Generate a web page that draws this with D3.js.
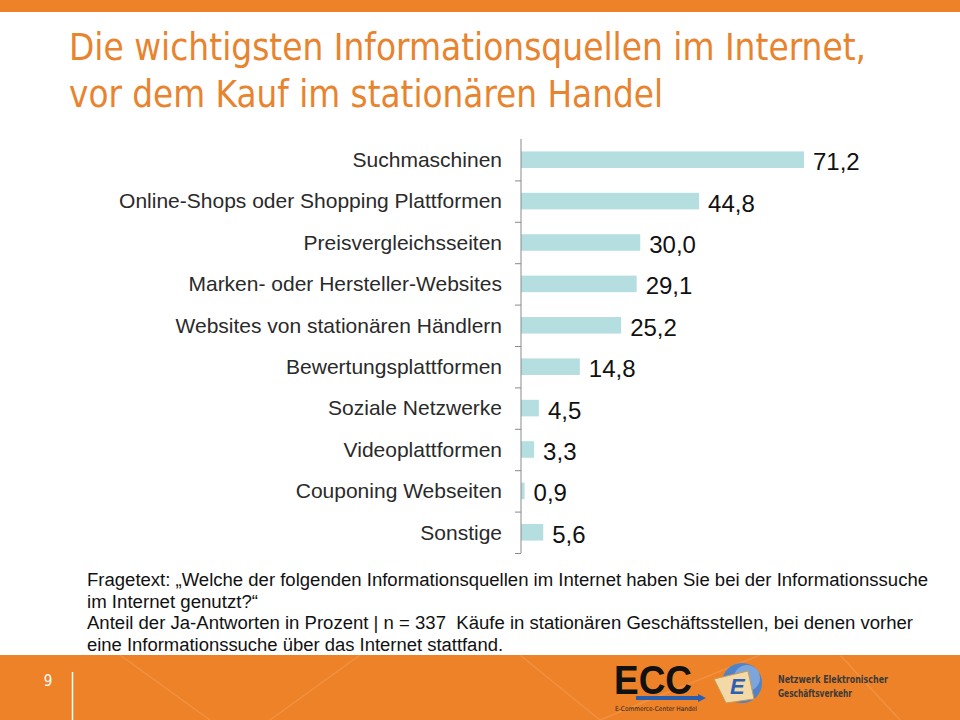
<!DOCTYPE html>
<html><head><meta charset="utf-8">
<script src="https://cdn.jsdelivr.net/npm/d3@7"></script>
<style>body{margin:0;background:#fff}svg{display:block}</style>
</head><body>
<script>
const categories = ["Suchmaschinen","Online-Shops oder Shopping Plattformen","Preisvergleichsseiten","Marken- oder Hersteller-Websites","Websites von stationären Händlern","Bewertungsplattformen","Soziale Netzwerke","Videoplattformen","Couponing Webseiten","Sonstige"];
const values = [71.2,44.8,30.0,29.1,25.2,14.8,4.5,3.3,0.9,5.6];
const titleLines = ["Die wichtigsten Informationsquellen im Internet,","vor dem Kauf im stationären Handel"];
const noteLines = ["Fragetext: „Welche der folgenden Informationsquellen im Internet haben Sie bei der Informationssuche","im Internet genutzt?“","Anteil der Ja-Antworten in Prozent | n = 337\u00a0 Käufe in stationären Geschäftsstellen, bei denen vorher","eine Informationssuche über das Internet stattfand."];
const noteWidths = [841,171,826,416];
const titleWidths = [797,594];

const W=960,H=720, orange="#EE8228";
const svg=d3.select("body").append("svg").attr("width",W).attr("height",H);
svg.append("rect").attr("width",W).attr("height",H).attr("fill","#fff");
svg.append("rect").attr("x",0).attr("y",0).attr("width",W).attr("height",12).attr("fill",orange);
svg.append("rect").attr("x",0).attr("y",655).attr("width",W).attr("height",65).attr("fill",orange);
const deco=svg.append("g").attr("stroke","#fff").attr("stroke-opacity",0.12).attr("fill","none").attr("stroke-width",1.5);
[[120,655,210,720],[270,720,360,655],[520,655,600,720],[600,720,760,655],[840,655,900,720]].forEach(l=>deco.append("line").attr("x1",l[0]).attr("y1",l[1]).attr("x2",l[2]).attr("y2",l[3]));
svg.append("text").attr("x",48).attr("y",686).attr("fill","#fff").attr("font-family","DejaVu Sans Condensed, sans-serif").attr("font-size",15).attr("text-anchor","middle").text("9");
svg.append("line").attr("x1",72.5).attr("x2",72.5).attr("y1",672).attr("y2",720).attr("stroke","#fff").attr("stroke-width",1.5);

// title
svg.append("g").selectAll("text").data(titleLines).join("text")
  .attr("x",69).attr("y",(d,i)=>60+i*47)
  .attr("fill","#E8832E").attr("font-family","DejaVu Sans Condensed, sans-serif")
  .attr("font-size",37).attr("textLength",(d,i)=>titleWidths[i]).attr("lengthAdjust","spacingAndGlyphs").text(d=>d);

// chart
const x=d3.scaleLinear().domain([0,71.2]).range([521,804]);
const y=d3.scaleBand().domain(categories).range([139,553]).paddingInner(0.6).paddingOuter(0.3);
const g=svg.append("g");
g.selectAll("rect.bar").data(values).join("rect").attr("class","bar")
  .attr("x",x(0)).attr("y",(d,i)=>y(categories[i])).attr("width",d=>x(d)-x(0)).attr("height",y.bandwidth())
  .attr("fill","#B5DEE1");
const yAxis=d3.axisLeft(d3.scaleLinear().domain([0,10]).range([139,553])).ticks(10).tickSize(6).tickFormat("");
const ax=svg.append("g").attr("transform","translate(521,0)").call(yAxis);
ax.selectAll("path,line").attr("stroke","#8a8a8a");
ax.select(".domain").attr("d","M0,139V553");
ax.selectAll(".tick").filter((d,i)=>i===0).remove();
g.selectAll("text.cat").data(categories).join("text").attr("class","cat")
  .attr("x",502).attr("y",d=>y(d)+y.bandwidth()/2).attr("dy","0.35em").attr("text-anchor","end")
  .attr("font-family","Liberation Sans, Arial, sans-serif").attr("font-size",21).attr("fill","#2a2a2a").text(d=>d);
g.selectAll("text.val").data(values).join("text").attr("class","val")
  .attr("x",d=>x(d)+9).attr("y",(d,i)=>y(categories[i])+y.bandwidth()/2+2).attr("dy","0.35em")
  .attr("font-family","Liberation Sans, Arial, sans-serif").attr("font-size",24).attr("fill","#111")
  .text(d=>d3.format(".1f")(d).replace(".",","));

// notes
svg.append("g").selectAll("text").data(noteLines).join("text")
  .attr("x",87).attr("y",(d,i)=>586+i*21.7)
  .attr("font-family","Liberation Sans, Arial, sans-serif").attr("font-size",18).attr("fill","#111")
  .attr("textLength",(d,i)=>noteWidths[i]).attr("lengthAdjust","spacingAndGlyphs").text(d=>d);

// logos
const lg=svg.append("g");
lg.append("text").attr("x",614).attr("y",694).attr("font-family","Liberation Sans, Arial, sans-serif").attr("font-weight","bold").attr("font-size",40).attr("fill","#111").attr("textLength",78).attr("lengthAdjust","spacingAndGlyphs").text("ECC");
lg.append("path").attr("d","M636,696 L698,696 L698,694 L706,698 L698,702 L698,700 L636,700 Z").attr("fill","#2a5fb0");
lg.append("text").attr("x",615).attr("y",711).attr("font-family","DejaVu Sans Condensed, sans-serif").attr("font-size",6.5).attr("fill","#222").attr("textLength",82).attr("lengthAdjust","spacingAndGlyphs").text("E-Commerce-Center Handel");
const gx=742,gy=683;
lg.append("circle").attr("cx",gx).attr("cy",gy).attr("r",20).attr("fill","#4f82c8");
lg.append("circle").attr("cx",gx+5).attr("cy",gy-5).attr("r",13).attr("fill","#8fb3e3").attr("opacity",0.7);
lg.append("path").attr("d",`M${gx-28},${gy-4} L${gx+6},${gy-12} L${gx+12},${gy+16} L${gx-16},${gy+20} Z`).attr("fill","#f4d9a8").attr("stroke","#c99a55");
lg.append("text").attr("x",gx-12).attr("y",gy+11).attr("font-family","Liberation Sans, sans-serif").attr("font-weight","bold").attr("font-style","italic").attr("font-size",22).attr("fill","#2d5fb5").text("E");
lg.append("text").attr("x",778).attr("y",683).attr("font-family","DejaVu Sans Condensed, sans-serif").attr("font-weight","bold").attr("font-size",10.5).attr("fill","#3a3a3a").attr("textLength",110).attr("lengthAdjust","spacingAndGlyphs").text("Netzwerk Elektronischer");
lg.append("text").attr("x",778).attr("y",697).attr("font-family","DejaVu Sans Condensed, sans-serif").attr("font-weight","bold").attr("font-size",10.5).attr("fill","#3a3a3a").attr("textLength",74).attr("lengthAdjust","spacingAndGlyphs").text("Geschäftsverkehr");
</script>
</body></html>
